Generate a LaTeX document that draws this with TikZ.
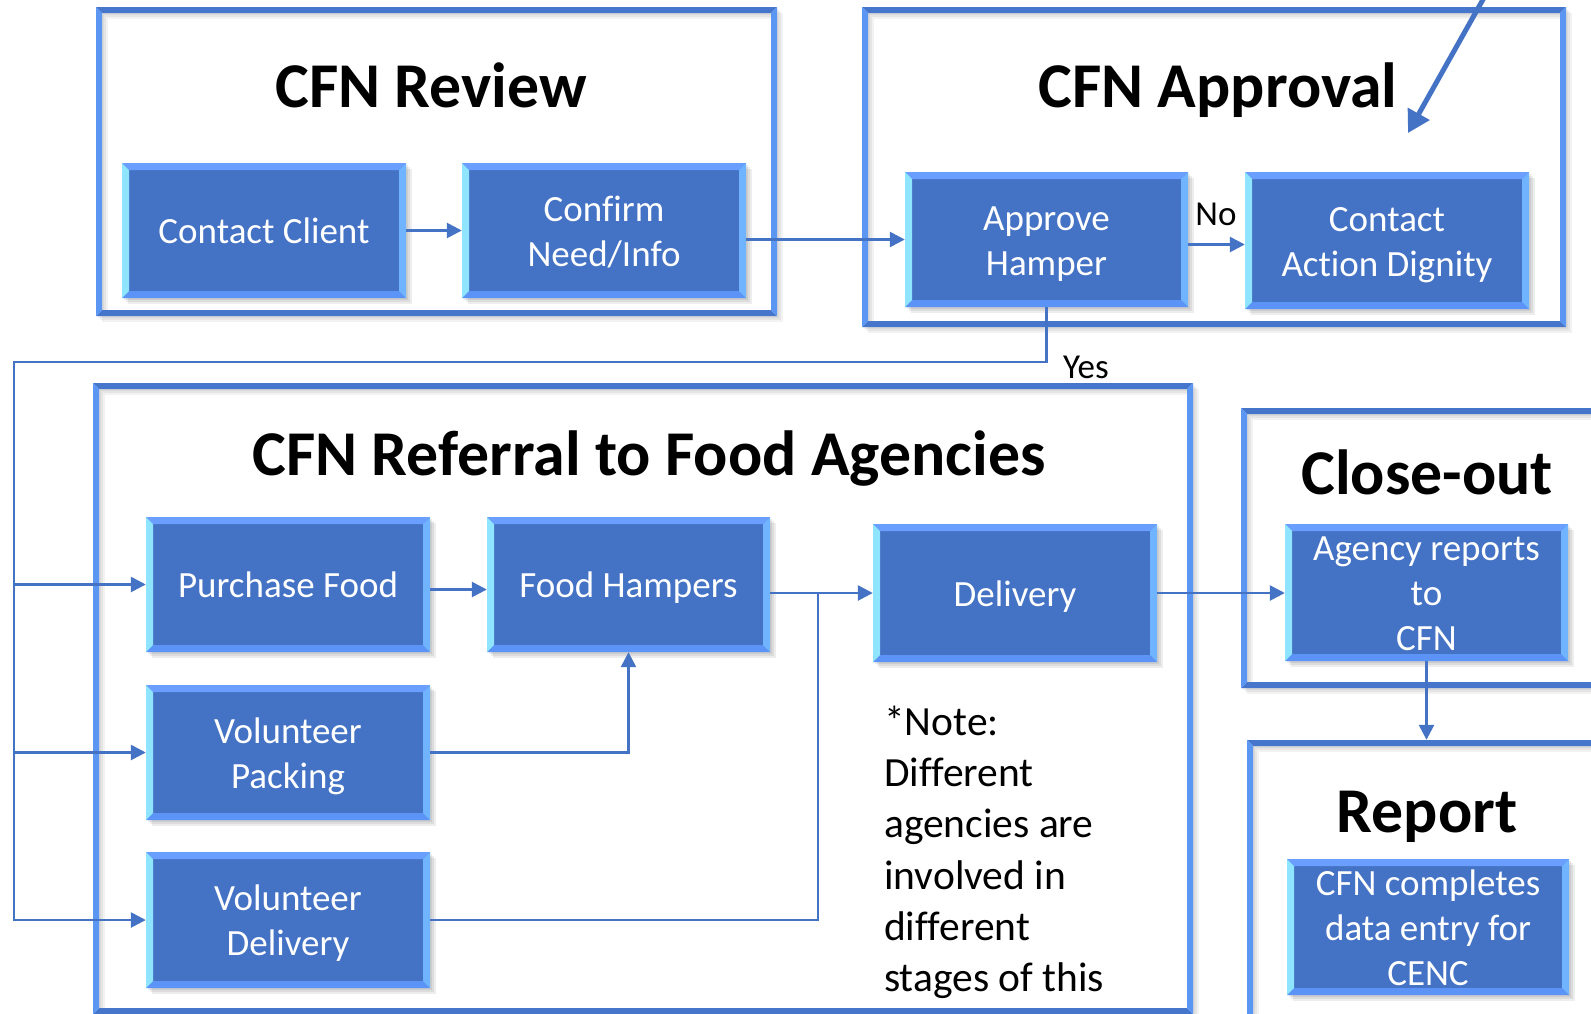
\documentclass[tikz,border=0pt]{standalone}
\usepackage{fontspec}
\setmainfont{Carlito}[Ligatures=NoCommon]
\usetikzlibrary{arrows.meta}
\definecolor{boxblue}{HTML}{4472C4}
\definecolor{bvtop}{HTML}{6A9EFF}
\definecolor{bvleft}{HTML}{8FE5FF}
\definecolor{bvright}{HTML}{70B4FF}
\definecolor{bvbot}{HTML}{5B93F6}
\definecolor{frtb}{HTML}{4675CC}
\definecolor{frlr}{HTML}{5A96F2}
\definecolor{lineblue}{HTML}{4472C4}

\newcommand\bxs{\rule[-9.5pt]{0pt}{45pt}}
\newcommand\nts{\rule[-15.4pt]{0pt}{51.3pt}}

\tikzset{
 stepbox/.style={fill=boxblue, inner sep=0pt, text=white, align=center, font=\fontsize{37}{45}\selectfont},
 framebox/.style={inner sep=0pt},
 titletext/.style={font=\fontsize{63.8}{75}\selectfont\bfseries, anchor=base, inner sep=0pt},
 lbl/.style={font=\fontsize{35}{42}\selectfont, anchor=base, inner sep=0pt},
 ln/.style={draw=lineblue, line width=2.6pt},
 arr/.style={ln, -{Triangle[length=15pt,width=15pt]}},
}

% bevelled process box: name, x1, y1, x2, y2, text
\newcommand\bvbox[6]{%
 \pgfmathsetmacro\bxw{#4-#2}\pgfmathsetmacro\bxh{#5-#3}%
 \pgfmathsetmacro\bxcx{(#2+#4)/2}\pgfmathsetmacro\bxcy{(#3+#5)/2}%
 \foreach \o in {2,4,6}{\fill[black,opacity=.07] (#2+\o,#3+\o) rectangle (#4+\o,#5+\o);}
 \node[stepbox, minimum width=\bxw pt, minimum height=\bxh pt] (#1) at (\bxcx,\bxcy) {#6};
 \fill[bvtop] (#2,#3) -- (#4,#3) -- (#4-7,#3+7) -- (#2+7,#3+7) -- cycle;
 \fill[bvbot] (#2,#5) -- (#4,#5) -- (#4-7,#5-7) -- (#2+7,#5-7) -- cycle;
 \fill[bvleft] (#2,#3) -- (#2+7,#3+7) -- (#2+7,#5-7) -- (#2,#5) -- cycle;
 \fill[bvright] (#4,#3) -- (#4-7,#3+7) -- (#4-7,#5-7) -- (#4,#5) -- cycle;
}

% frame: name, x1, y1, x2, y2
\newcommand\frm[5]{%
 \pgfmathsetmacro\bxw{#4-#2}\pgfmathsetmacro\bxh{#5-#3}%
 \pgfmathsetmacro\bxcx{(#2+#4)/2}\pgfmathsetmacro\bxcy{(#3+#5)/2}%
 \foreach \o in {2,4,6}{\draw[black,opacity=.05,line width=6pt] (#2+3+\o,#3+3+\o) rectangle (#4-3+\o,#5-3+\o);}
 \node[framebox, minimum width=\bxw pt, minimum height=\bxh pt] (#1) at (\bxcx,\bxcy) {};
 \fill[frtb] (#2,#3) -- (#4,#3) -- (#4-6,#3+6) -- (#2+6,#3+6) -- cycle;
 \fill[frtb] (#2,#5) -- (#4,#5) -- (#4-6,#5-6) -- (#2+6,#5-6) -- cycle;
 \fill[frlr] (#2,#3) -- (#2+6,#3+6) -- (#2+6,#5-6) -- (#2,#5) -- cycle;
 \fill[frlr] (#4,#3) -- (#4-6,#3+6) -- (#4-6,#5-6) -- (#4,#5) -- cycle;
}

\begin{document}
\begin{tikzpicture}[x=1pt,y=-1pt]
\useasboundingbox (0,0) rectangle (1591,1013);
\clip (0,0) rectangle (1591,1013);
\fill[white] (0,0) rectangle (1591,1013);

% frames
\frm{fRev}{96}{7}{777}{316}
\frm{fApp}{862}{7}{1566}{327}
\frm{fRef}{93}{383}{1193}{1014}
\frm{fClo}{1241}{408}{1600}{688}
\frm{fRep}{1247}{740}{1600}{1030}

% titles
\node[titletext] (tRev) at (431,107) {CFN Review};
\node[titletext] (tApp) at (1218,107) {CFN Approval};
\node[titletext] (tRef) at (649,475) {CFN Referral to Food Agencies};
\node[titletext] (tClo) at (1427,494) {Close-out};
\node[titletext] (tRep) at (1427,832) {Report};

% boxes
\bvbox{cc}{122}{163}{406}{298}{\bxs Contact Client}
\bvbox{cn}{462}{163}{746}{298}{\bxs Confirm\\\bxs Need/Info}
\bvbox{ah}{905}{172}{1188}{307}{\bxs Approve\\\bxs Hamper}
\bvbox{cad}{1245}{172}{1529}{309}{\bxs Contact\\\bxs Action Dignity}
\bvbox{pf}{146}{517}{430}{652}{\bxs Purchase Food}
\bvbox{fh}{487}{517}{770}{652}{\bxs Food Hampers}
\bvbox{dl}{873}{524}{1157}{662}{\bxs Delivery}
\bvbox{vp}{146}{685}{430}{820}{\bxs Volunteer\\\bxs Packing}
\bvbox{vd}{146}{852}{430}{988}{\bxs Volunteer\\\bxs Delivery}
\bvbox{ar}{1285}{524}{1568}{661}{\bxs Agency reports\\\bxs to\\\bxs CFN}
\bvbox{ce}{1287}{859}{1569}{995}{\bxs CFN completes\\\bxs data entry for\\\bxs CENC}

% connectors
\coordinate (bus1) at (14,362);
\coordinate (join) at (818,593);
\draw[arr] (cc) -- (cn);
\draw[arr] (cn.east |- ah.west) -- (ah.west);
\draw[arr] ([yshift=-5pt]ah.east) -- ([yshift=-5pt]ah.east -| cad.west);
\draw[arr] (ah.south) |- (bus1) |- (vd.west);
\draw[arr] (bus1 |- pf.west) -- (pf.west);
\draw[arr] (bus1 |- vp.west) -- (vp.west);
\draw[arr] ([yshift=-5pt]pf.east) -- ([yshift=-5pt]fh.west);
\draw[arr] (fh.east |- dl.west) -- (dl.west);
\draw[arr] (vp.east) -| (fh.south);
\draw[ln] (vd.east) -| (join);
\draw[arr] (dl.east) -- (dl.east -| ar.west);
\draw[arr] (ar.south) -- (ar.south |- fRep.north);
\coordinate (exts) at (1490,-13);
\coordinate (extt) at (1408,133);
\draw[draw=lineblue, line width=5pt, -{Triangle[length=22pt,width=24pt]}] (exts) -- (extt);

% labels
\node[lbl] (no) at (1216,225) {No};
\node[lbl] (yes) at (1086,378) {Yes};

% note
\node[anchor=north west, inner sep=0pt, align=left, font=\fontsize{41.5}{51.3}\selectfont] (note) at (884,699)
 {\nts *Note:\\\nts Different\\\nts agencies are\\\nts involved in\\\nts different\\\nts stages of this};
\end{tikzpicture}
\end{document}
